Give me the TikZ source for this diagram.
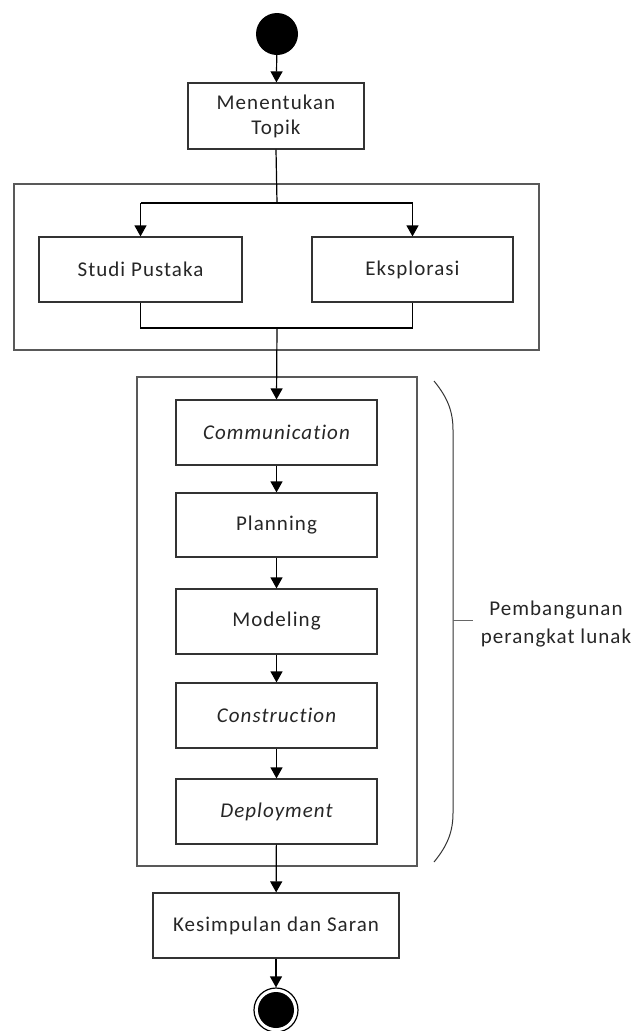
\documentclass[tikz,border=0pt]{standalone}
\usepackage{fontspec}
\setmainfont{Carlito}[Ligatures=NoCommon,LetterSpace=5]
\usetikzlibrary{arrows.meta}
\begin{document}
\begin{tikzpicture}[x=1pt,y=-1pt,
  box/.style={draw=black!80,line width=1.2pt,minimum width=#1,minimum height=65pt,inner sep=0pt,align=center,font=\fontsize{21}{25}\selectfont,text=black!85},
  box/.default=201pt,
  group/.style={draw=black!65,line width=1.2pt},
  conn/.style={line width=1.2pt,draw=black},
  arr/.style={conn,-{Triangle[length=11pt,width=12pt]}},
  lbl/.style={align=center,font=\fontsize{21}{28}\selectfont,text=black!85}]
\useasboundingbox (0,0) rectangle (637,1031);
\node[circle,fill=black,minimum size=42pt,inner sep=0pt] (start) at (277,34) {};
\node[box=176pt,minimum height=66pt] (topik) at (276,116) {Menentukan\\Topik};
\draw[group] (14,184) rectangle (539,350);
\node[box=203pt] (studi) at (140.5,269.5) {Studi Pustaka};
\node[box=201pt] (eksp) at (412.5,269.5) {Eksplorasi};
\draw[group] (137,377) rectangle (417,866);
\node[box] (comm) at (276.5,432.5) {\itshape Communication};
\node[box,minimum height=64pt] (plan) at (276.5,525) {Planning};
\node[box] (model) at (276.5,621.5) {Modeling};
\node[box] (cons) at (276.5,715.5) {\itshape Construction};
\node[box] (depl) at (276.5,811.5) {\itshape Deployment};
\node[box=246pt] (kes) at (276,925.5) {Kesimpulan dan Saran};
\node[circle,draw=black,line width=1.2pt,minimum size=44pt,inner sep=0pt] (end) at (276,1010) {};
\fill[black] (end.center) circle (18pt);
\coordinate (split) at (277,203);
\coordinate (splitL) at (140.5,203);
\coordinate (splitR) at (412.5,203);
\coordinate (joinL) at (140.5,328);
\coordinate (joinR) at (412.5,328);
\coordinate (join) at (277,328);
\draw[arr] (start) -- (topik);
\draw[conn] (topik.south) -- (split);
\draw[conn] (splitL) -- (splitR);
\draw[arr] (splitL) -- (studi.north);
\draw[arr] (splitR) -- (eksp.north);
\draw[conn] (studi.south) -- (joinL) -- (joinR) -- (eksp.south);
\draw[arr] (join) -- (comm.north);
\draw[arr] (comm) -- (plan);
\draw[arr] (plan) -- (model);
\draw[arr] (model) -- (cons);
\draw[arr] (cons) -- (depl);
\draw[arr] (depl) -- (kes);
\draw[arr] (kes) -- (end);
\draw[line width=1pt,black!80] (434,381) .. controls (448,398) and (453,412) .. (453,430) -- (453,813) .. controls (453,831) and (448,845) .. (434,862);
\draw[line width=1pt,black!60] (453,620) -- (473,620);
\node[lbl] (pl) at (556,624) {Pembangunan\\perangkat lunak};
\end{tikzpicture}
\end{document}
